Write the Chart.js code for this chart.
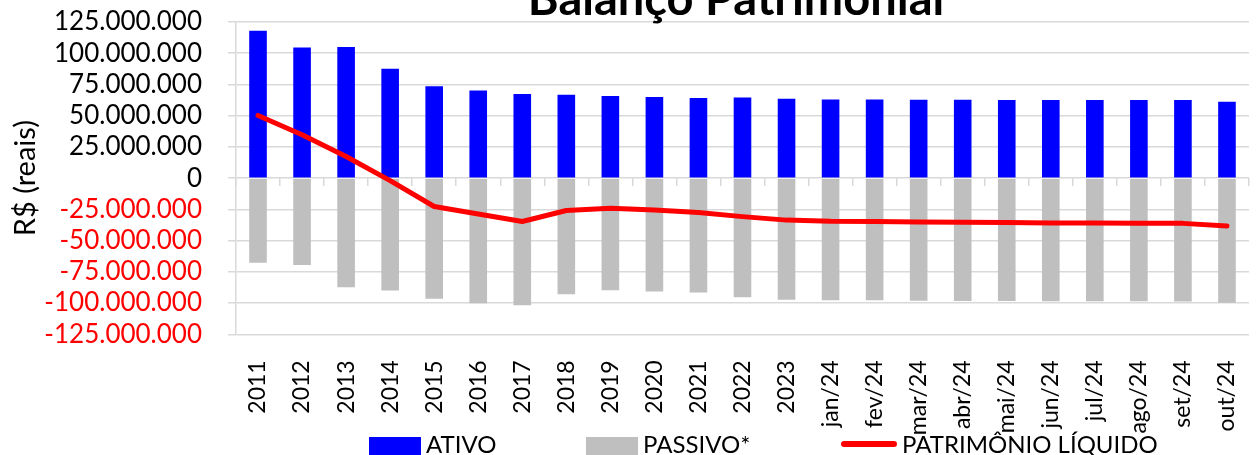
<!DOCTYPE html>
<html>
<head>
<meta charset="utf-8">
<script src="https://cdn.jsdelivr.net/npm/chart.js@4.4.1/dist/chart.umd.min.js"></script>
<style>
  html, body { margin: 0; padding: 0; background: #ffffff; overflow: hidden; }
  #wrap { width: 1258px; height: 455px; overflow: hidden; position: relative; }
  canvas { display: block; }
</style>
</head>
<body>
<div id="wrap"><canvas id="c" width="1268" height="455"></canvas></div>
<script>
// ---- data ----
const categories = ['2011','2012','2013','2014','2015','2016','2017','2018','2019','2020','2021','2022','2023',
  'jan/24','fev/24','mar/24','abr/24','mai/24','jun/24','jul/24','ago/24','set/24','out/24'];
const ativo = [118.0e6, 104.6e6, 105.0e6, 87.6e6, 73.6e6, 70.2e6, 67.3e6, 66.7e6, 65.7e6, 64.9e6, 64.1e6, 64.6e6, 63.5e6,
  63.0e6, 63.0e6, 62.7e6, 62.7e6, 62.5e6, 62.5e6, 62.5e6, 62.5e6, 62.5e6, 61.1e6];
const passivo = [-67.8e6, -69.6e6, -87.4e6, -89.9e6, -96.5e6, -100.2e6, -101.8e6, -93.0e6, -89.8e6, -90.8e6, -91.6e6, -95.4e6, -97.3e6,
  -97.8e6, -97.8e6, -98.1e6, -98.3e6, -98.3e6, -98.6e6, -98.6e6, -98.6e6, -98.8e6, -99.7e6];
const patrimonio = [50.2e6, 34.7e6, 17.3e6, -2.0e6, -22.7e6, -28.7e6, -34.7e6, -25.9e6, -24.0e6, -25.4e6, -27.5e6, -30.8e6, -33.6e6,
  -34.6e6, -34.8e6, -35.2e6, -35.4e6, -35.6e6, -35.9e6, -36.0e6, -36.1e6, -36.2e6, -38.4e6];
const yTicks = { min: -125e6, max: 125e6, step: 25e6 };
const seriesNames = ['ATIVO', 'PASSIVO*', 'PATRIMÔNIO LÍQUIDO'];
const chartTitle = 'Balanço Patrimonial';
const yTitle = 'R$ (reais)';

// ---- helpers ----
function fmtBR(v) {
  const s = Math.abs(Math.round(v)).toString().replace(/\B(?=(\d{3})+(?!\d))/g, '.');
  return (v < 0 ? '-' : '') + s;
}
const FONT = 'Lato, "Open Sans", sans-serif';
const GRID = '#d9d9d9';

const titlePlugin = {
  id: 'topTitle',
  afterDraw(chart) {
    const ctx = chart.ctx;
    ctx.save();
    ctx.font = 'bold 47px ' + FONT;
    ctx.fillStyle = '#000000';
    ctx.textAlign = 'center';
    ctx.textBaseline = 'alphabetic';
    ctx.fillText(chartTitle, 736, 15);
    ctx.restore();
  }
};

const legendPlugin = {
  id: 'customLegend',
  afterDraw(chart) {
    const ctx = chart.ctx;
    const ds = chart.data.datasets;
    ctx.save();
    ctx.font = '24px ' + FONT;
    ctx.textBaseline = 'alphabetic';
    ctx.textAlign = 'left';
    const items = [
      { box: 369, text: 426, ds: ds[0] },
      { box: 586, text: 643, ds: ds[1] },
      { box: 841, text: 902, ds: ds[2] }
    ];
    items.forEach(it => {
      if (it.ds.type === 'line') {
        ctx.strokeStyle = it.ds.borderColor;
        ctx.lineWidth = 6;
        ctx.lineCap = 'round';
        ctx.beginPath();
        ctx.moveTo(it.box + 3, 444);
        ctx.lineTo(it.box + 53, 444);
        ctx.stroke();
      } else {
        ctx.fillStyle = it.ds.backgroundColor;
        ctx.fillRect(it.box, 437, 52, 20);
      }
      ctx.fillStyle = '#000000';
      ctx.fillText(it.ds.label, it.text, 453);
    });
    ctx.restore();
  }
};

const chart = new Chart(document.getElementById('c'), {
  data: {
    labels: categories,
    datasets: [
      { type: 'bar', label: seriesNames[0], data: ativo, backgroundColor: '#0000FF', grouped: false,
        barPercentage: 0.4, categoryPercentage: 1, order: 2, xAxisID: 'x', yAxisID: 'y' },
      { type: 'bar', label: seriesNames[1], data: passivo, backgroundColor: '#BFBFBF', grouped: false,
        barPercentage: 0.4, categoryPercentage: 1, order: 1, xAxisID: 'x', yAxisID: 'y' },
      { type: 'line', label: seriesNames[2], data: patrimonio, borderColor: '#FF0000', backgroundColor: '#FF0000',
        borderWidth: 5, pointRadius: 0, tension: 0, borderCapStyle: 'round', borderJoinStyle: 'round',
        order: 0, xAxisID: 'x', yAxisID: 'y' }
    ]
  },
  options: {
    responsive: false,
    devicePixelRatio: 1,
    animation: false,
    layout: { padding: { top: 22, right: 1.6, bottom: 0, left: 0 } },
    plugins: { legend: { display: false }, title: { display: false }, tooltip: { enabled: false } },
    scales: {
      x: {
        type: 'category',
        position: 'bottom',
        offset: true,
        grid: { display: false },
        border: { display: false },
        ticks: {
          autoSkip: false, minRotation: 90, maxRotation: 90, padding: 18,
          color: '#000000', font: { family: FONT, size: 23, lineHeight: 1 }
        },
        afterFit(scale) { scale.height = 120.7; }
      },
      x0: {
        type: 'category',
        labels: categories,
        position: { y: 0 },
        offset: true,
        grid: { display: true, drawOnChartArea: false, drawTicks: true, tickLength: 8, offset: true, color: GRID, lineWidth: 1.5 },
        border: { display: false },
        ticks: { display: false },
        afterFit(scale) { scale.height = 0; }
      },
      y: {
        type: 'linear',
        position: 'left',
        min: yTicks.min, max: yTicks.max,
        grid: { color: GRID, lineWidth: 1.5, drawTicks: true, tickLength: 8 },
        border: { display: true, color: GRID, width: 1.5 },
        ticks: {
          stepSize: yTicks.step, autoSkip: false, padding: 26,
          font: { family: FONT, size: 26, lineHeight: 1 },
          color: (c) => (c.tick && c.tick.value < 0 ? '#FF0000' : '#000000'),
          callback: (v) => fmtBR(v)
        },
        title: { display: true, text: yTitle, color: '#000000', font: { family: FONT, size: 29, lineHeight: 1.2 }, padding: { top: 8, bottom: 0 } },
        afterFit(scale) { scale.width = 236; scale.paddingTop = 13; scale.paddingBottom = 13; }
      }
    }
  },
  plugins: [titlePlugin, legendPlugin]
});
</script>
</body>
</html>
